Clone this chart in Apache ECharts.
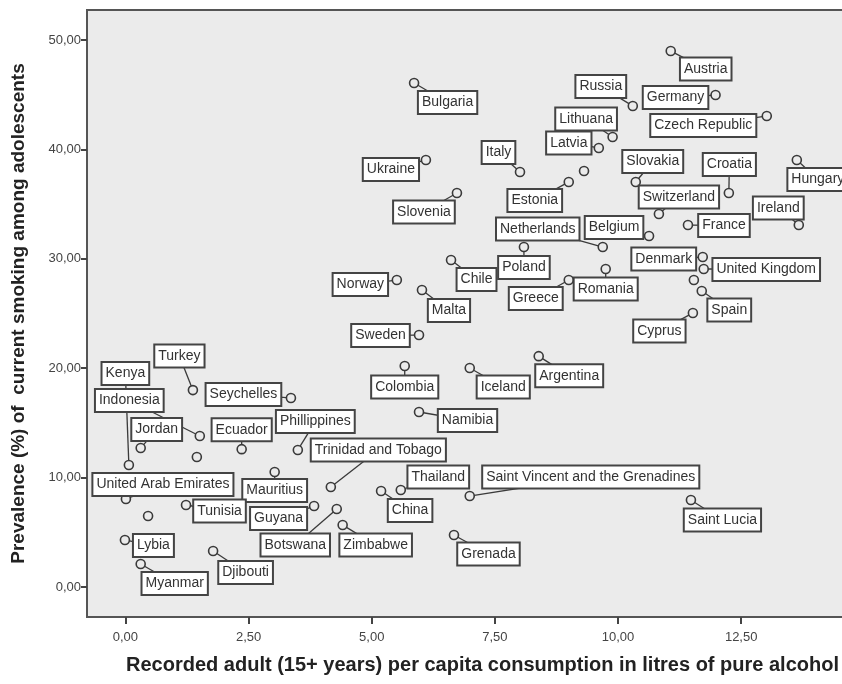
<!DOCTYPE html>
<html>
<head>
<meta charset="utf-8">
<script src="https://cdn.jsdelivr.net/npm/echarts@6/dist/echarts.min.js"></script>
<style>
  body { margin: 0; background: #fff; }
  #chart { width: 842px; height: 684px; }
</style>
</head>
<body>
<div id="chart"></div>
<script>
// country names ('' = point without a label)
const countries = [
  'Austria', 'Russia', 'Germany', 'Czech Republic', 'Bulgaria', 'Lithuana', 'Latvia', 'Ukraine',
  'Hungary', 'Italy', '', 'Estonia', 'Slovakia', 'Slovenia', 'Croatia', 'Switzerland',
  'Ireland', 'France', 'Belgium', 'Netherlands', 'Poland', 'Denmark', 'Chile', 'United Kingdom',
  'Romania', '', 'Greece', 'Norway', 'Malta', 'Spain', 'Cyprus', 'Sweden',
  'Argentina', 'Colombia', 'Iceland', 'Turkey', 'Kenya', 'Seychelles', 'Namibia', 'Indonesia',
  'Jordan', 'Ecuador', 'Phillippines', '', 'Trinidad and Tobago', 'Mauritius', 'Thailand', 'China',
  'Saint Vincent and the Grenadines', 'United Arab Emirates', 'Saint Lucia', 'Tunisia', 'Guyana', 'Botswana', '', 'Zimbabwe',
  'Grenada', 'Lybia', 'Djibouti', 'Myanmar'
];
// recorded adult per capita alcohol consumption (litres)
const alcohol = [
  11.07, 10.30, 11.98, 13.02, 5.86, 9.89, 9.61, 6.10,
  13.63, 8.01, 9.31, 9.00, 10.36, 6.73, 12.25, 10.83,
  13.67, 11.42, 10.63, 9.69, 8.09, 11.72, 6.61, 11.74,
  9.75, 11.54, 9.00, 5.51, 6.02, 11.70, 11.52, 5.96,
  8.39, 5.67, 6.99, 1.37, 0.07, 3.36, 5.96, 1.51,
  0.31, 2.36, 3.50, 1.45, 4.17, 3.03, 5.59, 5.19,
  6.99, 0.01, 11.48, 1.23, 3.83, 4.29, 0.46, 4.41,
  6.67, -0.01, 1.78, 0.31
];
// prevalence (%) of current smoking among adolescents
const smoking = [
  48.99, 43.97, 44.97, 43.05, 46.07, 41.13, 40.13, 39.03,
  39.03, 37.93, 38.03, 37.02, 37.02, 36.01, 36.01, 34.10,
  33.09, 33.09, 32.08, 31.08, 31.08, 30.16, 29.89, 29.07,
  29.07, 28.06, 28.06, 28.06, 27.15, 27.06, 25.05, 23.03,
  21.10, 20.20, 20.02, 18.00, 11.15, 17.28, 16.00, 13.80,
  12.70, 12.60, 12.52, 11.88, 9.14, 10.51, 8.87, 8.78,
  8.32, 8.04, 7.95, 7.50, 7.40, 7.13, 6.49, 5.67,
  4.75, 4.30, 3.29, 2.10
];
const xTicks = [0, 2.5, 5, 7.5, 10, 12.5];
const yTicks = [0, 10, 20, 30, 40, 50];

// label box offset from its point, in pixels (layout only)
const labelOffsets = [
  [35, 18], [-32, -19.5], [-40, 2.5], [-63.5, 9.5], [33.5, 19.5], [-26.5, -18], [-30, -5], [-35, 9.5],
  [21, 19.5], [-21.5, -19.5], null, [-34, 18.5], [17, -20.5], [-33, 19], [0.5, -28.5], [20, -17],
  [-20.5, -17], [36, 0.5], [-35, -8.5], [-65, -18], [0, 20.5], [-39, 2], [25.5, 19.5], [62.5, 0.5],
  [0, 20], null, [-33, 18.5], [-36.5, 4.5], [27, 20.5], [27.5, 19], [-33.5, 18], [-38.5, 0.5],
  [30.5, 19.5], [0, 21], [33.5, 19], [-13.5, -34], [-3.5, -91.5], [-47.5, -3.5], [48.5, 8.5], [-70.5, -35.5],
  [16, -18.5], [0, -19.5], [17.5, -28.5], null, [47.5, -37], [0, 18.5], [37.5, -13], [29, 19.5],
  [121, -19], [37, -14.5], [31.5, 20], [33.5, 6], [-35.5, 12.5], [-41.5, 36], null, [33, 20],
  [34.5, 19], [28.5, 5.5], [32.5, 21.5], [34, 19.5]
];

const fmt = v => v.toFixed(2).replace('.', ',');
const ink = '#3a3a3a';

const chart = echarts.init(document.getElementById('chart'), null, { renderer: 'canvas' });

chart.setOption({
  animation: false,
  backgroundColor: '#fff',
  textStyle: { fontFamily: 'Liberation Sans, Arial, sans-serif' },
  grid: {
    left: 87, top: 10, width: 765, height: 607,
    outerBoundsMode: 'none',
    show: true, backgroundColor: '#ebebeb', borderColor: '#555', borderWidth: 2
  },
  xAxis: {
    type: 'value', min: -0.78, max: 14.75,
    name: 'Recorded adult (15+ years) per capita consumption in litres of pure alcohol',
    nameLocation: 'middle', nameGap: 38,
    nameTextStyle: { fontSize: 20, fontWeight: 'bold', color: '#222', padding: [0, 0, 0, 26] },
    axisLine: { show: false, onZero: false },
    axisTick: { show: true, length: 7, lineStyle: { color: '#444', width: 2 }, customValues: xTicks },
    axisLabel: { color: '#444', fontSize: 13, margin: 14, formatter: fmt, customValues: xTicks },
    splitLine: { show: false }
  },
  yAxis: {
    type: 'value', min: -2.74, max: 52.74,
    name: 'Prevalence (%) of  current smoking among adolescents',
    nameLocation: 'middle', nameGap: 59, nameRotate: 90,
    nameTextStyle: { fontSize: 19, fontWeight: 'bold', color: '#222' },
    axisLine: { show: false, onZero: false },
    axisTick: { show: true, length: 6, lineStyle: { color: '#444', width: 2 }, customValues: yTicks },
    axisLabel: { color: '#444', fontSize: 13, margin: 6, formatter: fmt, customValues: yTicks },
    splitLine: { show: false }
  },
  series: [{
    type: 'custom',
    clip: false,
    data: alcohol.map((a, i) => [a, smoking[i]]),
    renderItem: function (params, api) {
      const i = params.dataIndex;
      const p = api.coord([api.value(0), api.value(1)]);
      const r = 4.5;
      const kids = [];
      const off = labelOffsets[i];
      if (countries[i] && off) {
        const lx = p[0] + off[0], ly = p[1] + off[1];
        const d = Math.hypot(off[0], off[1]) || 1;
        kids.push({
          type: 'line',
          shape: { x1: p[0] + off[0] / d * r, y1: p[1] + off[1] / d * r, x2: lx, y2: ly },
          style: { stroke: ink, lineWidth: 1.3 }
        });
      }
      kids.push({
        type: 'circle',
        shape: { cx: p[0], cy: p[1], r: r },
        style: { fill: 'none', stroke: ink, lineWidth: 1.6 }
      });
      if (countries[i] && off) {
        kids.push({
          type: 'text',
          x: p[0] + off[0], y: p[1] + off[1],
          style: {
            text: countries[i], align: 'center', verticalAlign: 'middle',
            font: '14px "Liberation Sans", Arial, sans-serif', fill: '#333',
            backgroundColor: '#fff', borderColor: '#444', borderWidth: 2,
            padding: [4, 3, 3, 3]
          }
        });
      }
      return { type: 'group', children: kids };
    }
  }]
});
</script>
</body>
</html>
